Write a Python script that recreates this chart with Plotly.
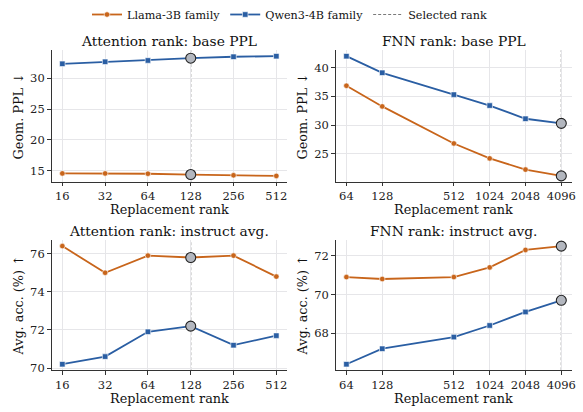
import math
import plotly.graph_objects as go

# ---- data ----
attn_ranks = [16, 32, 64, 128, 256, 512]
fnn_ranks = [64, 128, 512, 1024, 2048, 4096]
attn_sel = 128
fnn_sel = 4096

attn_ppl_llama = [14.55, 14.55, 14.5, 14.37, 14.25, 14.15]
attn_ppl_qwen = [32.35, 32.68, 32.9, 33.27, 33.5, 33.6]
fnn_ppl_llama = [36.85, 33.25, 26.8, 24.2, 22.25, 21.15]
fnn_ppl_qwen = [42.0, 39.1, 35.3, 33.4, 31.1, 30.3]

attn_acc_llama = [76.4, 75.0, 75.9, 75.8, 75.9, 74.8]
attn_acc_qwen = [70.2, 70.6, 71.9, 72.2, 71.2, 71.7]
fnn_acc_llama = [70.9, 70.8, 70.9, 71.4, 72.3, 72.5]
fnn_acc_qwen = [66.4, 67.2, 67.8, 68.4, 69.1, 69.7]

titles = ["Attention rank: base PPL", "FNN rank: base PPL",
          "Attention rank: instruct avg.", "FNN rank: instruct avg."]
ylabels = ["Geom. PPL ↓", "Geom. PPL ↓", "Avg. acc. (%) ↑", "Avg. acc. (%) ↑"]
xlabel = "Replacement rank"
series_names = ["Llama-3B family", "Qwen3-4B family", "Selected rank"]

# ---- styling ----
ORANGE = "#c8651b"
BLUE = "#2a5ea3"
SEL_FILL = "#b3b7bf"
GRID = "#e6e6e9"
SPINE = "#333333"
SEL_LINE = "#7a7a7a"
FONT = "DejaVu Serif"
W, H = 583, 412

panels = [
    (attn_ranks, attn_ppl_llama, attn_ppl_qwen, attn_sel, [15, 20, 25, 30]),
    (fnn_ranks, fnn_ppl_llama, fnn_ppl_qwen, fnn_sel, [25, 30, 35, 40]),
    (attn_ranks, attn_acc_llama, attn_acc_qwen, attn_sel, [70, 72, 74, 76]),
    (fnn_ranks, fnn_acc_llama, fnn_acc_qwen, fnn_sel, [68, 70, 72]),
]

# domains in pixels
xdom_px = [(52, 289), (338, 576)]
ydom_px = [(49, 183), (242.3, 374.5)]

fig = go.Figure()
layout = {}
annotations = []
shapes = []

for i, (ranks, ll, qw, sel, yt) in enumerate(panels):
    r, c = divmod(i, 2)
    n = i + 1
    xa = "x" if n == 1 else f"x{n}"
    ya = "y" if n == 1 else f"y{n}"
    xkey = "xaxis" if n == 1 else f"xaxis{n}"
    ykey = "yaxis" if n == 1 else f"yaxis{n}"

    fig.add_trace(go.Scatter(
        x=ranks, y=ll, mode="lines+markers", name=series_names[0],
        line=dict(color=ORANGE, width=1.8),
        marker=dict(symbol="circle", size=5.5, color=ORANGE, line=dict(color="white", width=0.6)),
        xaxis=xa, yaxis=ya, showlegend=(i == 0), legendgroup="l"))
    fig.add_trace(go.Scatter(
        x=ranks, y=qw, mode="lines+markers", name=series_names[1],
        line=dict(color=BLUE, width=1.8),
        marker=dict(symbol="square", size=5.5, color=BLUE, line=dict(color="white", width=0.6)),
        xaxis=xa, yaxis=ya, showlegend=(i == 0), legendgroup="q"))
    k = ranks.index(sel)
    fig.add_trace(go.Scatter(
        x=[sel, sel], y=[ll[k], qw[k]], mode="markers",
        marker=dict(symbol="circle", size=10, color=SEL_FILL, line=dict(color="#222222", width=1.1)),
        xaxis=xa, yaxis=ya, showlegend=False, hoverinfo="skip"))

    shapes.append(dict(type="line", xref=xa, yref=f"{ya} domain", x0=sel, x1=sel, y0=0, y1=1,
                       line=dict(color=SEL_LINE, width=1.1, dash="3px,2px"), layer="below"))

    lo, hi = math.log2(min(ranks)), math.log2(max(ranks))
    m = (hi - lo) * 0.05
    xr = [(lo - m) * math.log10(2), (hi + m) * math.log10(2)]
    dmin = min(ll + qw)
    dmax = max(ll + qw)
    ym = (dmax - dmin) * 0.05
    yr = [dmin - ym, dmax + ym]

    x0, x1 = xdom_px[c]
    y0, y1 = ydom_px[r]
    layout[xkey] = dict(
        type="log", domain=[x0 / W, x1 / W], range=xr, anchor=ya,
        tickvals=ranks, ticktext=[str(v) for v in ranks],
        showgrid=True, gridcolor=GRID, gridwidth=1, zeroline=False,
        showline=True, linecolor=SPINE, linewidth=1.2,
        ticks="outside", ticklen=3.5, tickwidth=1, tickcolor=SPINE,
        tickfont=dict(family=FONT, size=11.5, color="#222222"))
    layout[ykey] = dict(
        domain=[1 - y1 / H, 1 - y0 / H], range=yr, anchor=xa,
        tickvals=yt, showgrid=True, gridcolor=GRID, gridwidth=1, zeroline=False,
        showline=True, linecolor=SPINE, linewidth=1.2,
        ticks="outside", ticklen=3.5, tickwidth=1, tickcolor=SPINE,
        tickfont=dict(family=FONT, size=11.5, color="#222222"))

    cx = (x0 + x1) / 2
    annotations.append(dict(text=titles[i], x=cx / W, y=1 - (y0 - 9) / H, xref="paper", yref="paper",
                            xanchor="center", yanchor="middle", showarrow=False,
                            font=dict(family=FONT, size=13.8, color="#111111")))
    annotations.append(dict(text=xlabel, x=cx / W, y=1 - (y1 + 28.5) / H, xref="paper", yref="paper",
                            xanchor="center", yanchor="middle", showarrow=False,
                            font=dict(family=FONT, size=12.8, color="#111111")))
    ylx = 18.5 if c == 0 else 304.5
    annotations.append(dict(text=ylabels[i], x=ylx / W, y=1 - ((y0 + y1) / 2) / H, xref="paper", yref="paper",
                            xanchor="center", yanchor="middle", showarrow=False, textangle=-90,
                            font=dict(family=FONT, size=12.8, color="#111111")))

fig.add_trace(go.Scatter(x=[None], y=[None], mode="lines", name=series_names[2],
                         line=dict(color=SEL_LINE, width=1.1, dash="3px,2px"), showlegend=True))

fig.update_layout(
    width=W, height=H, margin=dict(l=0, r=0, t=0, b=0),
    paper_bgcolor="white", plot_bgcolor="white",
    annotations=annotations, shapes=shapes,
    legend=dict(orientation="h", x=0.5, xanchor="center", y=1 - 12.5 / H, yanchor="middle",
                font=dict(family=FONT, size=11.2, color="#111111"), itemwidth=30,
                bgcolor="rgba(0,0,0,0)"),
    **layout)

fig.write_html("out.html", config={"displayModeBar": False},
               post_script="document.body.style.margin='0';document.body.style.padding='0';")
